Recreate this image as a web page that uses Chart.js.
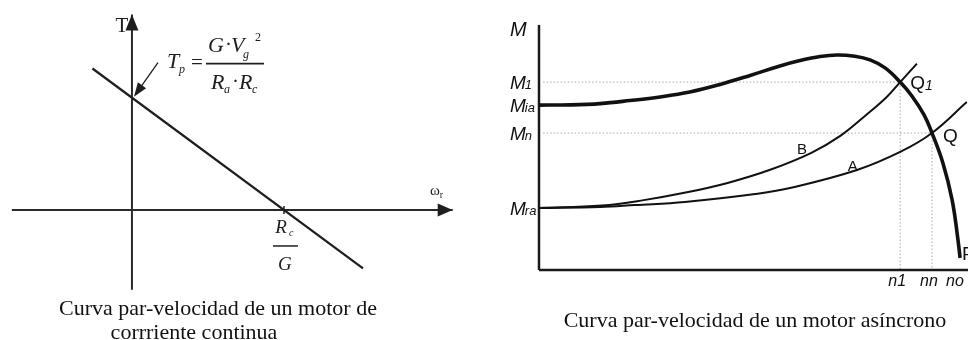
<!DOCTYPE html>
<html>
<head>
<meta charset="utf-8">
<script src="https://cdn.jsdelivr.net/npm/chart.js@4.4.1/dist/chart.umd.min.js"></script>
<style>
    body { margin: 0; background: #fff; width: 968px; height: 340px; position: relative; overflow: hidden; }
    canvas { position: absolute; top: 0; }
    #dc-chart { left: 0; }
    #ac-chart { left: 480px; }
    .caption {
        position: absolute; transform: translate(-50%, -50%);
        font-family: "Liberation Serif", "Times New Roman", serif; font-size: 22px;
        line-height: 1; color: #111; white-space: nowrap;
    }
</style>
</head>
<body>
<canvas id="dc-chart" width="460" height="340"></canvas>
<canvas id="ac-chart" width="488" height="340"></canvas>
<div class="caption" style="left:218px; top:308px">Curva par-velocidad de un motor de</div>
<div class="caption" style="left:194px; top:332px">corrriente continua</div>
<div class="caption" style="left:755px; top:320px">Curva par-velocidad de un motor asíncrono</div>

<script>
// --- left: DC motor, T = Tp at ω = 0, T = 0 at ω = Rc/G (both taken as 1)
const dcSpeed = [-0.26, 1.52];
const dcTorque = [1.26, -0.52];
const dcAxisSpeed = [-0.79, 2.11];     // horizontal axis (ω)
const dcAxisTorque = [-0.71, 1.74];    // vertical axis (T)
const dcStallTorque = 1.0;             // Tp
const dcNoLoadSpeed = 1.0;             // Rc/G
const dcRangeX = [-0.868, 2.158];
const dcRangeY = [-1.158, 1.870];

// --- right: asynchronous motor, speed in % of no, torque in % of peak
const acSpeed = [0, 7.4, 14.6, 21.7, 28.9, 36.0, 43.2, 50.4, 57.5, 62.3, 67.1, 71.1, 75.4, 79.0, 82.6, 86.2, 89.0, 91.9, 93.8, 96.4, 98.6, 100, 100.5];
const acMotorTorque = [76.7, 76.8, 77.4, 78.8, 80.5, 82.8, 86.3, 90.5, 94.9, 97.4, 99.3, 100, 99.4, 97.7, 94.0, 87.4, 80.9, 72.1, 63.7, 49.8, 32.6, 14.0, 5.6];
const acSpeedB = [0, 15, 25, 35, 45, 55, 65, 72, 78, 83, 86.2, 90.2];
const acLoadB = [28.8, 30.0, 32.5, 36.0, 40.5, 46.5, 54.5, 62.5, 72.0, 80.5, 87.4, 96.0];
const acSpeedA = [0, 14.6, 22.9, 34.8, 51.6, 59.9, 75.9, 86.2, 93.8, 102.1];
const acLoadA = [28.8, 29.3, 30.2, 31.6, 35.3, 38.1, 46.5, 54.9, 63.7, 78.1];
const torqueLevels = [87.4, 76.7, 63.7, 28.8];   // M1, Mia, Mn, Mra
const torqueLabels = ['1', 'ia', 'n', 'ra'];
const speedLevels = [86.2, 93.8, 100];           // n1, nn, no
const speedLabels = ['n1', 'nn', 'no'];
const acAxisTorque = [0, 114];
const acRangeX = [-14.08, 102.39];
const acRangeY = [-32.56, 125.58];

const SERIF = '"Liberation Serif", "Times New Roman", serif';
const SANS = '"Liberation Sans", Arial, sans-serif';

const points = (xs, ys) => xs.map((v, i) => ({x: v, y: ys[i]}));

function txt(ctx, s, x, y, font, align = 'left') {
    ctx.font = font;
    ctx.textAlign = align;
    ctx.textBaseline = 'alphabetic';
    ctx.fillText(s, x, y);
    return ctx.measureText(s).width;
}

function segment(ctx, x1, y1, x2, y2) {
    ctx.beginPath();
    ctx.moveTo(x1, y1);
    ctx.lineTo(x2, y2);
    ctx.stroke();
}

// filled arrow head, tip at (x, y), pointing along angle a
function arrowHead(ctx, x, y, a, len, half) {
    const bx = x - len * Math.cos(a), by = y - len * Math.sin(a);
    ctx.beginPath();
    ctx.moveTo(x, y);
    ctx.lineTo(bx - half * Math.sin(a), by + half * Math.cos(a));
    ctx.lineTo(bx + half * Math.sin(a), by - half * Math.cos(a));
    ctx.closePath();
    ctx.fill();
}

function baseOptions(rangeX, rangeY) {
    return {
        responsive: false,
        animation: false,
        events: [],
        layout: {padding: 0},
        plugins: {legend: {display: false}, tooltip: {enabled: false}},
        elements: {point: {radius: 0}},
        scales: {
            x: {type: 'linear', min: rangeX[0], max: rangeX[1], display: false},
            y: {type: 'linear', min: rangeY[0], max: rangeY[1], display: false}
        }
    };
}

const dcNotes = {
    id: 'dcNotes',
    afterDatasetsDraw(chart) {
        const {ctx, scales: {x, y}} = chart;
        const x0 = x.getPixelForValue(0);
        const y0 = y.getPixelForValue(0);
        const tipY = y.getPixelForValue(dcStallTorque);
        const cx = x.getPixelForValue(dcNoLoadSpeed);
        ctx.save();
        ctx.fillStyle = ctx.strokeStyle = '#1e1e1e';

        arrowHead(ctx, x.getPixelForValue(dcAxisSpeed[1]), y0, 0, 15, 6.5);
        arrowHead(ctx, x0, y.getPixelForValue(dcAxisTorque[1]), -Math.PI / 2, 16, 6.5);

        ctx.lineWidth = 1.5;
        segment(ctx, cx, y0 - 4, cx, y0 + 4);

        // arrow pointing at Tp
        const a = Math.atan2(34, -24);
        ctx.lineWidth = 1.3;
        segment(ctx, x0 + 26, tipY - 35, x0 + 2 - 12 * Math.cos(a), tipY - 1 - 12 * Math.sin(a));
        arrowHead(ctx, x0 + 2, tipY - 1, a, 14, 5);

        // axis names
        txt(ctx, 'T', x0 - 10, 32, '21px ' + SERIF, 'center');
        const w = txt(ctx, 'ω', 430, y0 - 15, '15px ' + SERIF);
        txt(ctx, 'r', 430 + w, y0 - 12, '10px ' + SERIF);

        // Tp = G·Vg² / (Ra·Rc)
        const big = 'italic 22px ' + SERIF, small = 'italic 12px ' + SERIF;
        const fy = tipY - 34;
        txt(ctx, 'T', x0 + 35, fy + 4, big);
        txt(ctx, 'p', x0 + 47, fy + 9, small);
        txt(ctx, '=', x0 + 65, fy + 5, '21px ' + SERIF, 'center');
        ctx.lineWidth = 1.7;
        segment(ctx, x0 + 74, fy, x0 + 132, fy);
        txt(ctx, 'G', x0 + 76, fy - 12, big);
        txt(ctx, '·', x0 + 93, fy - 13, '21px ' + SERIF);
        txt(ctx, 'V', x0 + 99, fy - 12, big);
        txt(ctx, 'g', x0 + 111, fy - 6, small);
        txt(ctx, '2', x0 + 123, fy - 23, '12px ' + SERIF);
        txt(ctx, 'R', x0 + 79, fy + 25, big);
        txt(ctx, 'a', x0 + 92, fy + 29, small);
        txt(ctx, '·', x0 + 100, fy + 24, '21px ' + SERIF);
        txt(ctx, 'R', x0 + 107, fy + 25, big);
        txt(ctx, 'c', x0 + 120, fy + 29, small);

        // Rc / G under the crossing point
        txt(ctx, 'R', cx - 3, y0 + 23, 'italic 19px ' + SERIF, 'center');
        txt(ctx, 'c', cx + 5, y0 + 26, 'italic 10px ' + SERIF);
        ctx.lineWidth = 1.5;
        segment(ctx, cx - 11, y0 + 36, cx + 14, y0 + 36);
        txt(ctx, 'G', cx + 1, y0 + 60, 'italic 19px ' + SERIF, 'center');
        ctx.restore();
    }
};

new Chart(document.querySelector('#dc-chart'), {
    type: 'line',
    data: {
        datasets: [
            {data: points(dcSpeed, dcTorque), borderColor: '#1e1e1e', borderWidth: 2.2, tension: 0},
            {data: points(dcAxisSpeed, [0, 0]), borderColor: '#2a2a2a', borderWidth: 2, tension: 0},
            {data: points([0, 0], dcAxisTorque), borderColor: '#2a2a2a', borderWidth: 2, tension: 0}
        ]
    },
    options: baseOptions(dcRangeX, dcRangeY),
    plugins: [dcNotes]
});

const acNotes = {
    id: 'acNotes',
    afterDatasetsDraw(chart) {
        const {ctx, scales: {x, y}} = chart;
        const x0 = x.getPixelForValue(0);
        const y0 = y.getPixelForValue(0);
        ctx.save();
        ctx.fillStyle = '#111';

        txt(ctx, 'M', x0 - 29, y.getPixelForValue(acAxisTorque[1]) + 11, 'italic 20px ' + SANS);
        torqueLevels.forEach((v, i) => {
            const py = y.getPixelForValue(v);
            const w = txt(ctx, 'M', x0 - 29, py + 7, 'italic 19px ' + SANS);
            txt(ctx, torqueLabels[i], x0 - 29 + w - 1, py + 7, 'italic 13px ' + SANS);
        });
        speedLevels.forEach((v, i) => {
            txt(ctx, speedLabels[i], x.getPixelForValue(v) - 3, y0 + 16, 'italic 16px ' + SANS, 'center');
        });

        // points of operation
        const q1x = x.getPixelForValue(speedLevels[0]), q1y = y.getPixelForValue(torqueLevels[0]);
        const w = txt(ctx, 'Q', q1x + 10, q1y + 7, '19px ' + SANS);
        txt(ctx, '1', q1x + 10 + w, q1y + 8, 'italic 14px ' + SANS);
        txt(ctx, 'Q', x.getPixelForValue(speedLevels[1]) + 11, y.getPixelForValue(torqueLevels[2]) + 9, '19px ' + SANS);
        txt(ctx, 'P', x.getPixelForValue(speedLevels[2]) + 4, y.getPixelForValue(acMotorTorque[acMotorTorque.length - 1]) + 2, '19px ' + SANS);
        txt(ctx, 'B', x.getPixelForValue(62.8), y.getPixelForValue(56.3) + 5, '15px ' + SANS, 'center');
        txt(ctx, 'A', x.getPixelForValue(74.9), y.getPixelForValue(48.4) + 5, '15px ' + SANS, 'center');
        ctx.restore();
    }
};

const dotted = {borderColor: '#a8a8a8', borderWidth: 1, borderDash: [1.5, 2], tension: 0};

new Chart(document.querySelector('#ac-chart'), {
    type: 'line',
    data: {
        datasets: [
            {data: points(acSpeed, acMotorTorque), borderColor: '#111', borderWidth: 3.6, tension: 0.4},
            {data: points(acSpeedB, acLoadB), borderColor: '#111', borderWidth: 2, tension: 0.4},
            {data: points(acSpeedA, acLoadA), borderColor: '#111', borderWidth: 2, tension: 0.4},
            {data: points([0, 0], acAxisTorque), borderColor: '#1a1a1a', borderWidth: 2.5, tension: 0},
            {data: points([0, acRangeX[1]], [0, 0]), borderColor: '#1a1a1a', borderWidth: 2.5, tension: 0},
            {data: points([1, speedLevels[0]], [torqueLevels[0], torqueLevels[0]]), ...dotted},
            {data: points([speedLevels[0], speedLevels[0]], [torqueLevels[0], 0]), ...dotted},
            {data: points([1, speedLevels[1]], [torqueLevels[2], torqueLevels[2]]), ...dotted},
            {data: points([speedLevels[1], speedLevels[1]], [torqueLevels[2], 0]), ...dotted}
        ]
    },
    options: baseOptions(acRangeX, acRangeY),
    plugins: [acNotes]
});
</script>
</body>
</html>
